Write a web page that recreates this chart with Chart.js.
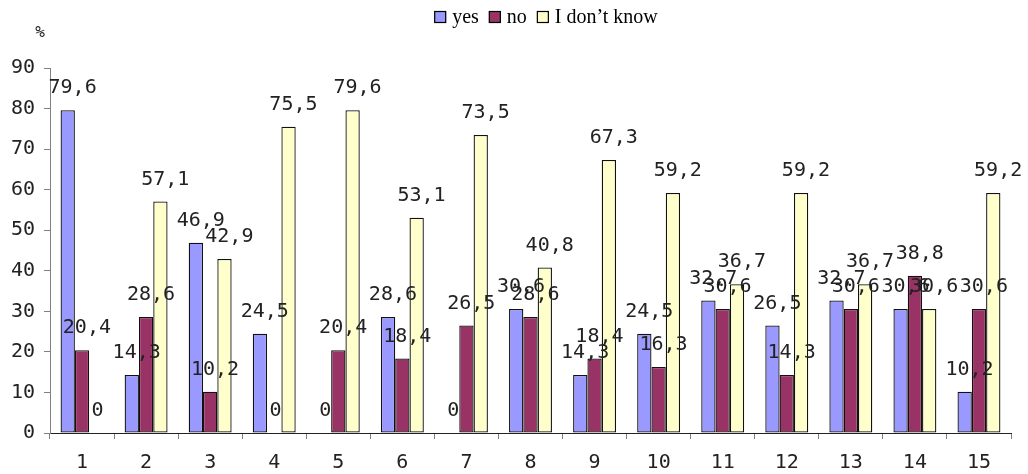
<!DOCTYPE html>
<html>
<head>
<meta charset="utf-8">
<script src="https://cdn.jsdelivr.net/npm/chart.js@4"></script>
<style>
  html, body { margin: 0; padding: 0; background: #fff; }
  #wrap { width: 1028px; height: 474px; }
</style>
</head>
<body>
<div id="wrap"><canvas id="c" width="1028" height="474"></canvas></div>
<script>
// Question numbers
const categories = ['1','2','3','4','5','6','7','8','9','10','11','12','13','14','15'];
// Share of answers, %
const yesValues  = [79.6, 14.3, 46.9, 24.5, 0, 28.6, 0, 30.6, 14.3, 24.5, 32.7, 26.5, 32.7, 30.6, 10.2];
const noValues   = [20.4, 28.6, 10.2, 0, 20.4, 18.4, 26.5, 28.6, 18.4, 16.3, 30.6, 14.3, 30.6, 38.8, 30.6];
const dkValues   = [0, 57.1, 42.9, 75.5, 79.6, 53.1, 73.5, 40.8, 67.3, 59.2, 36.7, 59.2, 36.7, 30.6, 59.2];
const seriesNames = ['yes', 'no', 'I don\u2019t know'];
const yTicks = [0, 10, 20, 30, 40, 50, 60, 70, 80, 90];

const colors = ['#9999FF', '#993366', '#FFFFCC'];
const monoFont = '"DejaVu Sans Mono", monospace';
const serifFont = '"Liberation Serif", "Times New Roman", serif';

function fmt(v) { return String(v).replace('.', ','); }

// Value labels above each bar, comma decimal separator
const valueLabels = {
  id: 'valueLabels',
  afterDatasetsDraw(chart) {
    const ctx = chart.ctx;
    ctx.save();
    ctx.font = '20px ' + monoFont;
    ctx.fillStyle = '#222';
    ctx.textAlign = 'left';
    ctx.textBaseline = 'middle';
    chart.data.datasets.forEach((ds, di) => {
      const meta = chart.getDatasetMeta(di);
      meta.data.forEach((bar, i) => {
        const txt = fmt(ds.data[i]);
        ctx.fillText(txt, bar.x - txt.length * 4.8, bar.y - 22);
      });
    });
    ctx.restore();
  }
};

// Legend row at the top and the unit mark above the value axis
const header = {
  id: 'header',
  afterDraw(chart) {
    const ctx = chart.ctx;
    ctx.save();
    ctx.font = '20px ' + serifFont;
    ctx.textBaseline = 'alphabetic';
    const box = 12, gapBox = 6, gapItem = 10;
    const widths = seriesNames.map(n => ctx.measureText(n).width);
    let total = 0;
    widths.forEach((w, i) => { total += box + gapBox + w + (i < widths.length - 1 ? gapItem : 0); });
    let x = 546 - total / 2;
    seriesNames.forEach((n, i) => {
      ctx.fillStyle = colors[i];
      ctx.fillRect(x, 11, box, box);
      ctx.strokeStyle = '#000';
      ctx.lineWidth = 1.2;
      ctx.strokeRect(x + 0.5, 11.5, box - 1, box - 1);
      ctx.fillStyle = '#000';
      ctx.fillText(n, x + box + gapBox, 23);
      x += box + gapBox + widths[i] + gapItem;
    });
    ctx.font = '16px ' + monoFont;
    ctx.fillStyle = '#222';
    ctx.textAlign = 'center';
    ctx.textBaseline = 'middle';
    ctx.fillText('%', 40, 33);
    ctx.restore();
  }
};

function ds(label, data, color) {
  return {
    label,
    data,
    backgroundColor: color,
    borderColor: '#111',
    borderWidth: ctx => (ctx.raw === 0 ? 0 : 1.3),
    borderSkipped: false,
    barPercentage: 1.0,
    categoryPercentage: 0.67
  };
}

new Chart(document.getElementById('c'), {
  type: 'bar',
  data: {
    labels: categories,
    datasets: [
      ds(seriesNames[0], yesValues, colors[0]),
      ds(seriesNames[1], noValues, colors[1]),
      ds(seriesNames[2], dkValues, colors[2])
    ]
  },
  options: {
    responsive: false,
    animation: false,
    layout: { padding: { top: 68, right: 17, bottom: 0, left: 0 } },
    plugins: {
      legend: { display: false },
      tooltip: { enabled: false }
    },
    scales: {
      x: {
        offset: true,
        grid: {
          offset: true,
          drawOnChartArea: false,
          drawTicks: true,
          tickLength: 6,
          color: '#808080'
        },
        border: { color: '#222', width: 1 },
        ticks: {
          color: '#222',
          font: { family: monoFont, size: 20 },
          padding: 12,
          maxRotation: 0
        },
        afterFit(scale) { scale.height = 41; }
      },
      y: {
        min: 0,
        max: 90,
        afterBuildTicks(scale) { scale.ticks = yTicks.map(v => ({ value: v })); },
        grid: {
          drawOnChartArea: false,
          drawTicks: true,
          tickLength: 6,
          color: '#808080'
        },
        border: { color: '#808080', width: 1 },
        ticks: {
          color: '#222',
          font: { family: monoFont, size: 20 },
          padding: 9
        },
        afterFit(scale) { scale.width = 50; }
      }
    }
  },
  plugins: [valueLabels, header]
});
</script>
</body>
</html>
